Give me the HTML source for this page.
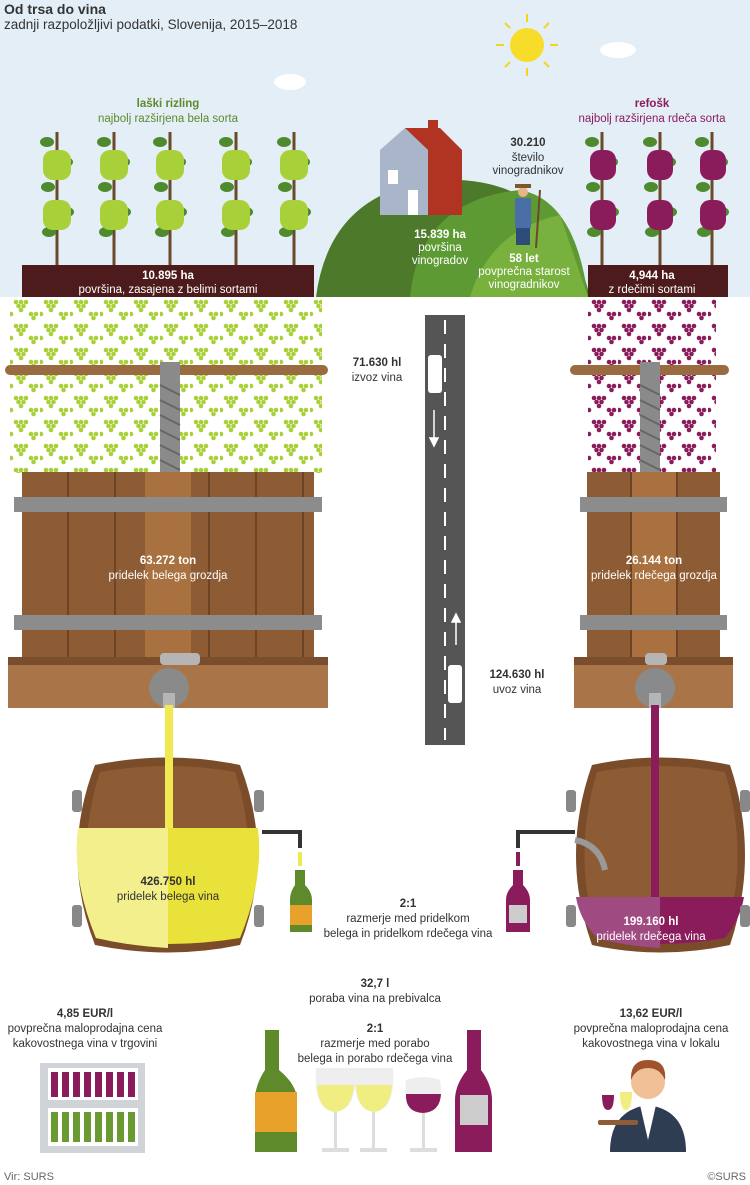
<!DOCTYPE html>
<html><head><meta charset="utf-8"><style>
html,body{margin:0;padding:0;background:#fff}
svg{display:block}
text{font-family:"Liberation Sans",Arial,sans-serif;font-size:11.5px;fill:#333}
.b{font-weight:bold}
</style></head><body>
<svg width="750" height="1185" viewBox="0 0 750 1185" xmlns="http://www.w3.org/2000/svg">
<defs>
<pattern id="gg" x="10" y="298" width="30" height="24" patternUnits="userSpaceOnUse">
<g fill="#a8d038"><circle cx="6" cy="4" r="2.3"/><circle cx="11" cy="4" r="2.3"/><circle cx="16" cy="4" r="2.3"/><circle cx="8.5" cy="8" r="2.3"/><circle cx="13.5" cy="8" r="2.3"/><circle cx="11" cy="12" r="2.3"/></g>
<g fill="#a8d038"><circle cx="21" cy="16" r="2.3"/><circle cx="26" cy="16" r="2.3"/><circle cx="23.5" cy="20" r="2.3"/><circle cx="1" cy="16" r="2.3"/></g>
</pattern>
<pattern id="pg" x="588" y="298" width="30" height="24" patternUnits="userSpaceOnUse">
<g fill="#8a1c5c"><circle cx="6" cy="4" r="2.3"/><circle cx="11" cy="4" r="2.3"/><circle cx="16" cy="4" r="2.3"/><circle cx="8.5" cy="8" r="2.3"/><circle cx="13.5" cy="8" r="2.3"/><circle cx="11" cy="12" r="2.3"/></g>
<g fill="#8a1c5c"><circle cx="21" cy="16" r="2.3"/><circle cx="26" cy="16" r="2.3"/><circle cx="23.5" cy="20" r="2.3"/><circle cx="1" cy="16" r="2.3"/></g>
</pattern>
<pattern id="staves" x="22" y="0" width="47" height="10" patternUnits="userSpaceOnUse">
<rect width="47" height="10" fill="#8e5c34"/><rect x="45" width="2" height="10" fill="#6e4426"/>
</pattern>
<g id="vineG">
<line x1="0" y1="0" x2="0" y2="135" stroke="#6b4a2a" stroke-width="3"/>
<g fill="#4f8a2e"><ellipse cx="-10" cy="10" rx="7" ry="5"/><ellipse cx="9" cy="30" rx="7" ry="5"/><ellipse cx="-9" cy="55" rx="7" ry="5"/><ellipse cx="10" cy="80" rx="7" ry="5"/><ellipse cx="-8" cy="100" rx="7" ry="5"/></g>
</g>
</defs>

<rect x="0" y="0" width="750" height="297" fill="#e3eef6"/>
<text x="4" y="14" class="b" style="font-size:14px">Od trsa do vina</text>
<text x="4" y="29" style="font-size:13.5px">zadnji razpoložljivi podatki, Slovenija, 2015–2018</text>
<g stroke="#f3d51c" stroke-width="2"><line x1="527" y1="14" x2="527" y2="22"/><line x1="527" y1="68" x2="527" y2="76"/><line x1="496" y1="45" x2="504" y2="45"/><line x1="550" y1="45" x2="558" y2="45"/><line x1="505" y1="23" x2="510" y2="28"/><line x1="544" y1="62" x2="549" y2="67"/><line x1="549" y1="23" x2="544" y2="28"/><line x1="510" y1="62" x2="505" y2="67"/></g>
<circle cx="527" cy="45" r="17" fill="#f7dc2a"/>
<g fill="#fff"><ellipse cx="290" cy="82" rx="16" ry="8"/><ellipse cx="618" cy="50" rx="18" ry="8"/></g>

<text x="168" y="107" class="b" text-anchor="middle" style="fill:#5e8a2c">laški rizling</text>
<text x="168" y="122" text-anchor="middle" style="fill:#5e8a2c">najbolj razširjena bela sorta</text>
<text x="652" y="107" class="b" text-anchor="middle" style="fill:#8a1c5c">refošk</text>
<text x="652" y="122" text-anchor="middle" style="fill:#8a1c5c">najbolj razširjena rdeča sorta</text>

<g>
<use href="#vineG" x="57" y="132"/><use href="#vineG" x="114" y="132"/><use href="#vineG" x="170" y="132"/><use href="#vineG" x="236" y="132"/><use href="#vineG" x="294" y="132"/>
<g fill="#a8d038">
<rect x="43" y="150" width="28" height="30" rx="10"/><rect x="43" y="200" width="28" height="30" rx="10"/>
<rect x="100" y="150" width="28" height="30" rx="10"/><rect x="100" y="200" width="28" height="30" rx="10"/>
<rect x="156" y="150" width="28" height="30" rx="10"/><rect x="156" y="200" width="28" height="30" rx="10"/>
<rect x="222" y="150" width="28" height="30" rx="10"/><rect x="222" y="200" width="28" height="30" rx="10"/>
<rect x="280" y="150" width="28" height="30" rx="10"/><rect x="280" y="200" width="28" height="30" rx="10"/>
</g></g>
<g>
<use href="#vineG" x="602" y="132"/><use href="#vineG" x="660" y="132"/><use href="#vineG" x="712" y="132"/>
<g fill="#8a1c5c">
<rect x="590" y="150" width="26" height="30" rx="10"/><rect x="590" y="200" width="26" height="30" rx="10"/>
<rect x="647" y="150" width="26" height="30" rx="10"/><rect x="647" y="200" width="26" height="30" rx="10"/>
<rect x="700" y="150" width="26" height="30" rx="10"/><rect x="700" y="200" width="26" height="30" rx="10"/>
</g></g>

<path d="M316 297 Q330 190 440 180 Q560 175 590 297 Z" fill="#4c7a2a"/>
<path d="M410 297 Q420 200 520 190 Q575 200 588 297 Z" fill="#5e9a33"/>
<path d="M470 297 Q490 230 560 215 L588 297 Z" fill="#78b13e"/>
<polygon points="380,150 405,128 428,150 428,215 380,215" fill="#a9b5c8"/>
<polygon points="405,128 440,128 462,150 462,215 428,215 428,150" fill="#b03421"/>
<rect x="428" y="120" width="10" height="20" fill="#b03421"/>
<rect x="388" y="170" width="10" height="14" fill="#fff"/><rect x="408" y="190" width="10" height="25" fill="#fff"/>
<circle cx="523" cy="192" r="5" fill="#e9b48a"/><rect x="515" y="184" width="16" height="4" fill="#7a5a2a"/>
<rect x="515" y="198" width="16" height="30" fill="#4a6fa6"/><rect x="516" y="228" width="14" height="17" fill="#2f4b7a"/>
<line x1="540" y1="190" x2="536" y2="248" stroke="#6b4a2a" stroke-width="2"/>

<text x="528" y="146" class="b" text-anchor="middle">30.210</text>
<text x="528" y="161" text-anchor="middle">število</text>
<text x="528" y="174" text-anchor="middle">vinogradnikov</text>
<text x="440" y="238" class="b" text-anchor="middle" style="fill:#fff">15.839 ha</text>
<text x="440" y="251" text-anchor="middle" style="fill:#fff">površina</text>
<text x="440" y="264" text-anchor="middle" style="fill:#fff">vinogradov</text>
<text x="524" y="262" class="b" text-anchor="middle" style="fill:#fff">58 let</text>
<text x="524" y="275" text-anchor="middle" style="fill:#fff">povprečna starost</text>
<text x="524" y="288" text-anchor="middle" style="fill:#fff">vinogradnikov</text>

<rect x="22" y="265" width="292" height="32" fill="#4d1b1b"/>
<text x="168" y="279" class="b" text-anchor="middle" style="fill:#fff">10.895 ha</text>
<text x="168" y="293" text-anchor="middle" style="fill:#fff">površina, zasajena z belimi sortami</text>
<rect x="588" y="265" width="140" height="32" fill="#4d1b1b"/>
<text x="652" y="279" class="b" text-anchor="middle" style="fill:#fff">4,944 ha</text>
<text x="652" y="293" text-anchor="middle" style="fill:#fff">z rdečimi sortami</text>

<rect x="10" y="298" width="312" height="175" fill="url(#gg)"/>
<rect x="588" y="298" width="128" height="175" fill="url(#pg)"/>
<rect x="5" y="365" width="323" height="10" rx="5" fill="#9a6a40"/>
<rect x="160" y="362" width="20" height="112" fill="#8a8a8a"/>
<g stroke="#666" stroke-width="2"><line x1="160" y1="385" x2="180" y2="395"/><line x1="160" y1="400" x2="180" y2="410"/><line x1="160" y1="415" x2="180" y2="425"/><line x1="160" y1="430" x2="180" y2="440"/><line x1="160" y1="445" x2="180" y2="455"/><line x1="160" y1="460" x2="180" y2="470"/></g>
<rect x="570" y="365" width="159" height="10" rx="5" fill="#9a6a40"/>
<rect x="640" y="362" width="20" height="112" fill="#8a8a8a"/>
<g stroke="#666" stroke-width="2"><line x1="640" y1="385" x2="660" y2="395"/><line x1="640" y1="400" x2="660" y2="410"/><line x1="640" y1="415" x2="660" y2="425"/><line x1="640" y1="430" x2="660" y2="440"/><line x1="640" y1="445" x2="660" y2="455"/><line x1="640" y1="460" x2="660" y2="470"/></g>

<rect x="22" y="472" width="292" height="188" fill="url(#staves)"/>
<rect x="145" y="472" width="46" height="188" fill="#a8713f"/>
<rect x="14" y="497" width="308" height="15" fill="#8c8c8c"/>
<rect x="14" y="615" width="308" height="15" fill="#8c8c8c"/>
<rect x="8" y="657" width="320" height="8" fill="#7a4e2c"/>
<rect x="8" y="665" width="320" height="43" fill="#a87448"/>
<text x="168" y="564" class="b" text-anchor="middle" style="fill:#fff">63.272 ton</text>
<text x="168" y="579" text-anchor="middle" style="fill:#fff">pridelek  belega grozdja</text>
<rect x="165" y="705" width="8" height="55" fill="#f0ea50"/>
<circle cx="169" cy="688" r="20" fill="#8a8a8a"/><rect x="160" y="653" width="40" height="12" rx="4" fill="#b5b5b5"/><rect x="163" y="693" width="12" height="15" fill="#b5b5b5"/>

<rect x="587" y="472" width="133" height="188" fill="#8e5c34"/>
<g fill="#6e4426"><rect x="630" width="2" y="472" height="188"/><rect x="676" width="2" y="472" height="188"/></g>
<rect x="632" y="472" width="44" height="188" fill="#a8713f"/>
<rect x="580" y="497" width="147" height="15" fill="#8c8c8c"/>
<rect x="580" y="615" width="147" height="15" fill="#8c8c8c"/>
<rect x="574" y="657" width="159" height="8" fill="#7a4e2c"/>
<rect x="574" y="665" width="159" height="43" fill="#a87448"/>
<text x="654" y="564" class="b" text-anchor="middle" style="fill:#fff">26.144 ton</text>
<text x="654" y="579" text-anchor="middle" style="fill:#fff">pridelek rdečega grozdja</text>
<rect x="651" y="705" width="8" height="55" fill="#8a1c5c"/>
<circle cx="655" cy="688" r="20" fill="#8a8a8a"/><rect x="645" y="653" width="22" height="12" rx="4" fill="#b5b5b5"/><rect x="649" y="693" width="12" height="15" fill="#b5b5b5"/>

<rect x="425" y="315" width="40" height="430" fill="#555"/>
<line x1="445" y1="320" x2="445" y2="740" stroke="#fff" stroke-width="2" stroke-dasharray="14 10"/>
<rect x="428" y="355" width="14" height="38" rx="3" fill="#fff"/>
<rect x="448" y="665" width="14" height="38" rx="3" fill="#fff"/>
<g stroke="#fff" stroke-width="1.5" fill="#fff"><line x1="434" y1="410" x2="434" y2="440"/><polygon points="430,438 438,438 434,446"/><line x1="456" y1="620" x2="456" y2="645"/><polygon points="452,622 460,622 456,614"/></g>
<text x="377" y="366" class="b" text-anchor="middle">71.630 hl</text>
<text x="377" y="381" text-anchor="middle">izvoz vina</text>
<text x="517" y="678" class="b" text-anchor="middle">124.630 hl</text>
<text x="517" y="693" text-anchor="middle">uvoz vina</text>

<path d="M95 765 Q168 750 240 765 Q275 855 240 945 Q168 960 95 945 Q60 855 95 765 Z" fill="#7a4c2a"/>
<path d="M100 772 Q168 760 235 772 Q262 855 235 938 Q168 950 100 938 Q73 855 100 772 Z" fill="#8e5c34"/>
<path d="M78 828 L258 828 Q264 880 240 938 Q168 950 96 938 Q72 880 78 828 Z" fill="#e8e23a"/>
<path d="M78 828 L168 828 L168 948 Q130 946 96 938 Q72 880 78 828 Z" fill="#f3ef8c"/>
<rect x="165" y="705" width="8" height="123" fill="#f0ea50"/>
<g fill="#888"><rect x="72" y="790" width="10" height="22" rx="3"/><rect x="254" y="790" width="10" height="22" rx="3"/><rect x="72" y="905" width="10" height="22" rx="3"/><rect x="254" y="905" width="10" height="22" rx="3"/></g>
<text x="168" y="885" class="b" text-anchor="middle">426.750 hl</text>
<text x="168" y="900" text-anchor="middle">pridelek belega vina</text>
<path d="M262 832 L300 832 L300 848" stroke="#333" stroke-width="4" fill="none"/>
<rect x="298" y="852" width="4" height="14" fill="#f0ea50"/>
<path d="M295 870 L305 870 L305 885 Q312 892 312 900 L312 932 L290 932 L290 900 Q290 892 295 885 Z" fill="#5e8a2c"/>
<rect x="290" y="905" width="22" height="20" fill="#e8a22c"/>

<path d="M592 765 Q660 750 730 765 Q760 855 730 945 Q660 960 592 945 Q560 855 592 765 Z" fill="#7a4c2a"/>
<path d="M597 772 Q660 760 725 772 Q750 855 725 938 Q660 950 597 938 Q572 855 597 772 Z" fill="#8e5c34"/>
<path d="M576 897 L744 897 Q740 920 725 938 Q660 950 597 938 Q580 920 576 897 Z" fill="#8a1c5c"/>
<path d="M576 897 L660 897 L660 948 Q625 946 597 938 Q580 920 576 897 Z" fill="#a04a82"/>
<rect x="651" y="705" width="8" height="192" fill="#8a1c5c"/>
<path d="M575 840 Q600 845 605 870" stroke="#999" stroke-width="6" fill="none"/>
<g fill="#888"><rect x="566" y="790" width="10" height="22" rx="3"/><rect x="740" y="790" width="10" height="22" rx="3"/><rect x="566" y="905" width="10" height="22" rx="3"/><rect x="740" y="905" width="10" height="22" rx="3"/></g>
<text x="651" y="925" class="b" text-anchor="middle" style="fill:#fff">199.160 hl</text>
<text x="651" y="940" text-anchor="middle" style="fill:#fff">pridelek rdečega vina</text>
<path d="M575 832 L518 832 L518 848" stroke="#333" stroke-width="4" fill="none"/>
<rect x="516" y="852" width="4" height="14" fill="#8a1c5c"/>
<path d="M513 870 L523 870 L523 885 Q530 892 530 900 L530 932 L506 932 L506 900 Q506 892 513 885 Z" fill="#8a1c5c"/>
<rect x="509" y="905" width="18" height="18" fill="#ccc"/>

<text x="408" y="907" class="b" text-anchor="middle">2:1</text>
<text x="408" y="922" text-anchor="middle">razmerje med pridelkom</text>
<text x="408" y="937" text-anchor="middle">belega in pridelkom rdečega vina</text>

<text x="375" y="987" class="b" text-anchor="middle">32,7 l</text>
<text x="375" y="1002" text-anchor="middle">poraba vina na prebivalca</text>
<text x="375" y="1032" class="b" text-anchor="middle">2:1</text>
<text x="375" y="1047" text-anchor="middle">razmerje med porabo</text>
<text x="375" y="1062" text-anchor="middle">belega in porabo rdečega vina</text>
<text x="85" y="1017" class="b" text-anchor="middle">4,85 EUR/l</text>
<text x="85" y="1032" text-anchor="middle">povprečna maloprodajna cena</text>
<text x="85" y="1047" text-anchor="middle">kakovostnega vina v trgovini</text>
<text x="651" y="1017" class="b" text-anchor="middle">13,62 EUR/l</text>
<text x="651" y="1032" text-anchor="middle">povprečna maloprodajna cena</text>
<text x="651" y="1047" text-anchor="middle">kakovostnega vina v lokalu</text>

<rect x="40" y="1063" width="105" height="90" fill="#d0d4d8"/>
<rect x="48" y="1068" width="90" height="32" fill="#fff"/><rect x="48" y="1108" width="90" height="38" fill="#fff"/>
<g fill="#8a1c5c"><rect x="51" y="1072" width="7" height="25"/><rect x="62" y="1072" width="7" height="25"/><rect x="73" y="1072" width="7" height="25"/><rect x="84" y="1072" width="7" height="25"/><rect x="95" y="1072" width="7" height="25"/><rect x="106" y="1072" width="7" height="25"/><rect x="117" y="1072" width="7" height="25"/><rect x="128" y="1072" width="7" height="25"/></g>
<g fill="#6a9a32"><rect x="51" y="1112" width="7" height="30"/><rect x="62" y="1112" width="7" height="30"/><rect x="73" y="1112" width="7" height="30"/><rect x="84" y="1112" width="7" height="30"/><rect x="95" y="1112" width="7" height="30"/><rect x="106" y="1112" width="7" height="30"/><rect x="117" y="1112" width="7" height="30"/><rect x="128" y="1112" width="7" height="30"/></g>

<path d="M265 1030 L279 1030 L279 1070 Q297 1085 297 1100 L297 1152 L255 1152 L255 1100 Q255 1085 265 1070 Z" fill="#5e8a2c"/>
<rect x="255" y="1092" width="42" height="40" fill="#e8a22c"/>
<path d="M467 1030 L481 1030 L481 1070 Q492 1085 492 1100 L492 1152 L455 1152 L455 1100 Q455 1085 467 1070 Z" fill="#8a1c5c"/>
<rect x="460" y="1095" width="28" height="30" fill="#ccc"/>
<g fill="#ddd"><rect x="334" y="1110" width="3" height="40"/><rect x="372" y="1110" width="3" height="40"/><rect x="422" y="1110" width="3" height="40"/>
<rect x="322" y="1148" width="27" height="4"/><rect x="360" y="1148" width="27" height="4"/><rect x="410" y="1148" width="27" height="4"/></g>
<path d="M316 1068 L355 1068 Q358 1110 335 1112 Q313 1110 316 1068 Z" fill="#eee"/>
<path d="M317 1085 L354 1085 Q352 1110 335 1112 Q318 1110 317 1085 Z" fill="#f0ee80"/>
<path d="M355 1068 L393 1068 Q396 1110 374 1112 Q352 1110 355 1068 Z" fill="#eee"/>
<path d="M356 1085 L392 1085 Q390 1110 374 1112 Q357 1110 356 1085 Z" fill="#f0ee80"/>
<path d="M406 1080 Q423 1074 440 1080 Q445 1112 423 1113 Q402 1112 406 1080 Z" fill="#eee"/>
<path d="M406 1094 L441 1094 Q440 1112 423 1113 Q405 1112 406 1094 Z" fill="#8a1c5c"/>

<path d="M610 1152 Q610 1110 648 1105 Q686 1110 686 1152 Z" fill="#2f3d52"/>
<polygon points="640,1105 656,1105 648,1140" fill="#fff"/>
<circle cx="648" cy="1082" r="17" fill="#f0c196"/>
<path d="M631 1080 Q630 1060 648 1060 Q667 1060 665 1080 Q660 1068 648 1068 Q636 1068 631 1080 Z" fill="#a0522d"/>
<rect x="598" y="1120" width="40" height="5" rx="2" fill="#8e5c34"/>
<path d="M602 1095 L614 1095 Q614 1110 608 1110 Q602 1110 602 1095 Z" fill="#8a1c5c"/>
<path d="M620 1092 L632 1092 Q632 1110 626 1110 Q620 1110 620 1092 Z" fill="#f0ee80"/>

<text x="4" y="1180" style="font-size:11px;fill:#666">Vir: SURS</text>
<text x="746" y="1180" text-anchor="end" style="font-size:11px;fill:#666">©SURS</text>
</svg>
</body></html>
